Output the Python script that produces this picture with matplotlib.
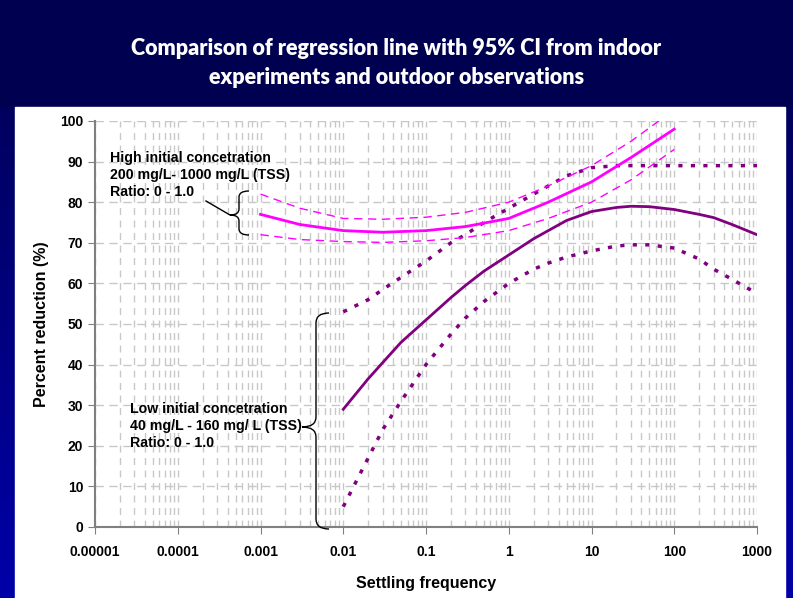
import numpy as np
import matplotlib.pyplot as plt
from matplotlib.path import Path
from matplotlib.patches import PathPatch
import matplotlib.ticker as mticker

# high initial concentration (indoor) - regression line and 95% CI
high_x = [0.001, 0.003, 0.01, 0.03, 0.1, 0.3, 1, 3, 10, 30, 100]
high_fit = [77, 74.5, 73, 72.6, 73, 74, 76, 80, 85, 91, 98]
high_up_x = [0.001, 0.003, 0.01, 0.03, 0.1, 0.3, 1, 3, 10, 30, 65]
high_up = [82, 78.5, 76, 75.8, 76.3, 77.5, 80, 84, 89, 95, 100]
high_lo = [72, 70.8, 70.3, 70.1, 70.5, 71.3, 73, 76, 80, 85.5, 93]

# low initial concentration (outdoor) - regression line and 95% CI
low_x = [0.01, 0.02, 0.03, 0.05, 0.1, 0.2, 0.3, 0.5, 1, 2, 3, 5, 10, 20, 30, 50, 100, 200, 300, 500, 1000]
low_fit = [29, 36.5, 40.5, 45.5, 51, 56.5, 59.5, 63, 67, 71, 73, 75.5, 77.7, 78.7, 79, 78.9, 78.2, 77, 76.2, 74.5, 72]
low_up = [53, 56, 58.5, 61.5, 65.5, 70, 72, 75, 78.5, 82, 84, 86.5, 88.5, 89, 89, 89, 89, 89, 89, 89, 89]
low_lo = [5, 17, 24, 31, 40, 47.5, 51.5, 55.5, 60, 63.5, 65, 66.5, 68, 69.2, 69.5, 69.5, 68.7, 66, 63.5, 61, 57.5]

x_ticks = [0.00001, 0.0001, 0.001, 0.01, 0.1, 1, 10, 100, 1000]
x_labels = ['0.00001', '0.0001', '0.001', '0.01', '0.1', '1', '10', '100', '1000']

W, H = 793, 598
fig = plt.figure(figsize=(W / 100, H / 100), dpi=100)
fig.patch.set_facecolor('#000050')

# background: navy banner, blue side strips with gradient, white panel
bg = fig.add_axes([0, 0, 1, 1], zorder=-10)
grad = np.linspace(0, 1, 256).reshape(-1, 1)
cols = np.zeros((256, 1, 3))
cols[..., 2] = 0.31 + 0.35 * grad
bg.imshow(cols, extent=[0, W, H, 0], aspect='auto')
bg.add_patch(plt.Rectangle((0, 0), W, 107, color='#000050'))
bg.add_patch(plt.Rectangle((15, 107), 770, H - 107, color='white'))
bg.set_xlim(0, W)
bg.set_ylim(H, 0)
bg.axis('off')

fig.text(0.5, 1 - 63 / H,
         'Comparison of regression line with 95% CI from indoor\nexperiments and outdoor observations',
         ha='center', va='center', color='white', fontsize=15.5, fontweight='heavy',
         family='Lato', linespacing=1.45)

ax = fig.add_axes([95 / W, 1 - 527 / H, 662 / W, 406 / H])
ax.set_facecolor('none')
ax.set_xscale('log')
ax.set_xlim(0.00001, 1000)
ax.set_ylim(0, 100)

ax.plot(high_x, high_fit, color='#ff00ff', lw=2, zorder=5)
ax.plot(high_up_x, high_up, color='#ff00ff', lw=1, ls=(0, (6, 4)), zorder=5)
ax.plot(high_x, high_lo, color='#ff00ff', lw=1, ls=(0, (6, 4)), zorder=5)
ax.plot(low_x, low_fit, color='#800080', lw=2, zorder=4)
ax.plot(low_x, low_up, color='#800080', lw=2.5, ls=(0, (1.2, 2.4)), zorder=4)
ax.plot(low_x, low_lo, color='#800080', lw=2.5, ls=(0, (1.2, 2.4)), zorder=4)

ax.set_xticks(x_ticks)
ax.set_xticklabels(x_labels)
ax.xaxis.set_minor_locator(mticker.LogLocator(base=10, subs=np.arange(2, 10)))
ax.xaxis.set_minor_formatter(mticker.NullFormatter())
ax.set_yticks(np.arange(0, 101, 10))
ax.grid(which='both', axis='x', color='#c8c8c8', lw=1, ls=(0, (5, 4)))
ax.grid(which='major', axis='y', color='#c8c8c8', lw=1, ls=(0, (6, 4)))
ax.tick_params(which='major', direction='out', length=5, color='#808080', labelsize=10)
ax.tick_params(axis='x', which='major', pad=8)
ax.tick_params(which='minor', length=0)
for lab in ax.get_xticklabels() + ax.get_yticklabels():
    lab.set_fontweight('bold')
    lab.set_family('Liberation Sans')
ax.spines['top'].set_visible(False)
ax.spines['right'].set_visible(False)
ax.spines['left'].set_color('#808080')
ax.spines['bottom'].set_color('#808080')
ax.spines['left'].set_linewidth(1.5)
ax.spines['bottom'].set_linewidth(1.5)
ax.set_xlabel('Settling frequency', fontsize=11.5, fontweight='bold', family='Liberation Sans', labelpad=12)
ax.set_ylabel('Percent reduction (%)', fontsize=11.5, fontweight='bold', family='Liberation Sans', labelpad=8)


def brace(x_right, x_mid, x_tip, y_top, y_tip, y_bot, r=6):
    # curly brace in pixel coords of the figure
    p = [(x_right, y_top), (x_mid, y_top), (x_mid, y_top + r),
         (x_mid, y_tip - r),
         (x_mid, y_tip), (x_tip, y_tip),
         (x_mid, y_tip), (x_mid, y_tip + r),
         (x_mid, y_bot - r),
         (x_mid, y_bot), (x_right, y_bot)]
    codes = [Path.MOVETO, Path.CURVE3, Path.CURVE3, Path.LINETO,
             Path.CURVE3, Path.CURVE3, Path.CURVE3, Path.CURVE3,
             Path.LINETO, Path.CURVE3, Path.CURVE3]
    verts = [(x / W, 1 - y / H) for x, y in p]
    fig.add_artist(PathPatch(Path(verts, codes), transform=fig.transFigure,
                             fill=False, color='black', lw=1, zorder=6))


brace(249, 239, 230, 191, 215, 235, r=6)
fig.add_artist(plt.Line2D([206 / W, 230 / W], [1 - 201 / H, 1 - 215 / H],
                          transform=fig.transFigure, color='black', lw=1))
brace(329, 316, 302, 313, 427, 529, r=10)

fig.text(110 / W, 1 - 175 / H,
         'High initial concetration\n200 mg/L- 1000 mg/L (TSS)\nRatio: 0 - 1.0',
         ha='left', va='center', fontsize=10.2, fontweight='bold', family='Liberation Sans',
         linespacing=1.3)
fig.text(130 / W, 1 - 426 / H,
         'Low initial concetration\n40 mg/L - 160 mg/ L (TSS)\nRatio: 0 - 1.0',
         ha='left', va='center', fontsize=10.2, fontweight='bold', family='Liberation Sans',
         linespacing=1.3)

fig.savefig('out.png', dpi=100)
